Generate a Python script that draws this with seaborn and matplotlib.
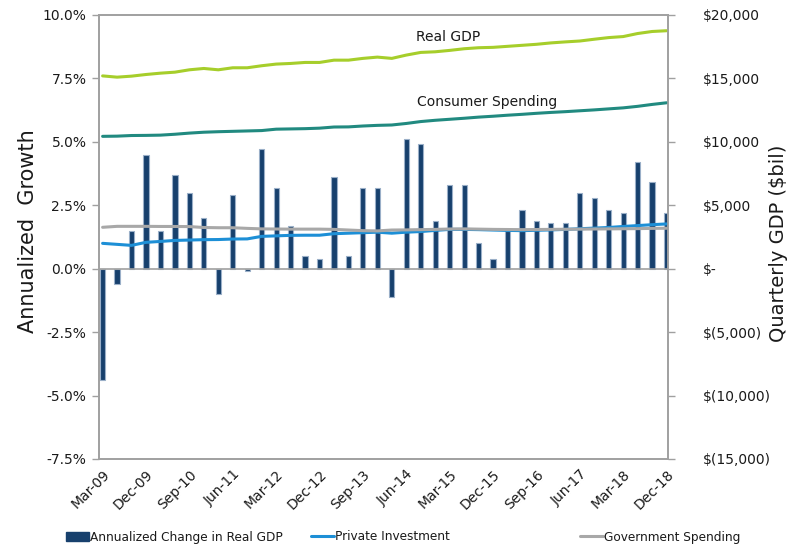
import numpy as np
import pandas as pd
import matplotlib
matplotlib.use("Agg")
import matplotlib.pyplot as plt
import seaborn as sns
from matplotlib.lines import Line2D
from matplotlib.patches import Patch
from matplotlib.ticker import FuncFormatter

sns.set_theme(style="white")
plt.rcParams['font.family'] = ['DejaVu Sans']

months = ["Mar", "Jun", "Sep", "Dec"]
quarters = [f"{m}-{str(y)[2:]}" for y in range(2009, 2019) for m in months]

gdp_growth = [-4.4, -0.6, 1.5, 4.5, 1.5, 3.7, 3.0, 2.0, -1.0, 2.9,
              -0.1, 4.7, 3.2, 1.7, 0.5, 0.4, 3.6, 0.5, 3.2, 3.2,
              -1.1, 5.1, 4.9, 1.9, 3.3, 3.3, 1.0, 0.4, 1.5, 2.3,
              1.9, 1.8, 1.8, 3.0, 2.8, 2.3, 2.2, 4.2, 3.4, 2.2]

real_gdp = [15200, 15100, 15180, 15310, 15415, 15494, 15680, 15785, 15680, 15840,
            15840, 16000, 16130, 16180, 16260, 16260, 16440, 16440, 16580, 16680,
            16580, 16840, 17050, 17100, 17210, 17340, 17420, 17450, 17530, 17610,
            17690, 17800, 17880, 17950, 18090, 18220, 18300, 18540, 18700, 18760]

consumer = [10435, 10450, 10500, 10510, 10530, 10600, 10690, 10760, 10800, 10830,
            10860, 10890, 11000, 11020, 11040, 11080, 11170, 11180, 11250, 11300,
            11330, 11450, 11600, 11700, 11780, 11860, 11950, 12020, 12100, 12170,
            12250, 12320, 12380, 12450, 12520, 12600, 12680, 12800, 12950, 13080]

private_inv = [2000, 1920, 1840, 2080, 2150, 2230, 2260, 2290, 2300, 2340,
               2350, 2550, 2590, 2630, 2640, 2640, 2760, 2800, 2840, 2880,
               2800, 2880, 2930, 3020, 3100, 3100, 3080, 3050, 3020, 3000,
               3030, 3060, 3100, 3150, 3200, 3250, 3330, 3400, 3470, 3530]

government = [3265, 3340, 3340, 3340, 3330, 3330, 3320, 3250, 3230, 3230,
              3180, 3140, 3130, 3120, 3120, 3120, 3100, 3050, 3000, 2980,
              3050, 3060, 3080, 3100, 3130, 3140, 3120, 3100, 3090, 3080,
              3090, 3100, 3110, 3120, 3130, 3140, 3150, 3160, 3180, 3190]

left_ticks = [-7.5, -5.0, -2.5, 0.0, 2.5, 5.0, 7.5, 10.0]
right_ticks = [-15000, -10000, -5000, 0, 5000, 10000, 15000, 20000]

df = pd.DataFrame({
    "idx": np.arange(len(quarters)),
    "quarter": quarters,
    "growth": gdp_growth,
    "real_gdp": real_gdp,
    "consumer": consumer,
    "private": private_inv,
    "gov": government,
})

BAR = "#17406D"
GREEN = "#A6CE2B"
TEAL = "#218A80"
BLUE = "#1D8FD6"
GRAY = "#A8A8A8"
AX = "#A0A0A0"
TXT = "#1a1a1a"

fig = plt.figure(figsize=(7.95, 5.46), dpi=100)
ax = fig.add_axes([99/795, 1-459/546, (668-99)/795, (459-15)/546])

sns.barplot(data=df, x="idx", y="growth", ax=ax, color=BAR, width=0.36,
            saturation=1, edgecolor="#9AAFC8", linewidth=0.8)
ax.axhline(0, color=AX, lw=1.2, zorder=1)

ax.set_ylim(-7.5, 10.0)
ax.set_xlim(-0.25, 39.1)
ax.set_yticks(left_ticks)
ax.yaxis.set_major_formatter(FuncFormatter(lambda v, p: f"{v:.1f}%"))
ax.set_xticks(df["idx"][::3])
ax.set_xticklabels(df["quarter"][::3], rotation=45, ha="right", rotation_mode="anchor")
ax.set_xlabel("")
ax.set_ylabel("Annualized  Growth", fontsize=15, color=TXT)
ax.yaxis.set_label_coords(-0.108, 0.513)
ax.tick_params(axis="y", which="both", left=True, length=5, width=1, color=AX,
               labelsize=10, labelcolor=TXT, pad=4)
ax.tick_params(axis="x", length=0, labelsize=10, labelcolor=TXT, pad=6)
for s in ax.spines.values():
    s.set_color(AX)
    s.set_linewidth(1.2)

ax2 = ax.twinx()
sns.lineplot(data=df, x="idx", y="real_gdp", ax=ax2, color=GREEN, lw=2.2)
sns.lineplot(data=df, x="idx", y="consumer", ax=ax2, color=TEAL, lw=2.2)
sns.lineplot(data=df, x="idx", y="private", ax=ax2, color=BLUE, lw=2.2)
sns.lineplot(data=df, x="idx", y="gov", ax=ax2, color=GRAY, lw=2.2)
ax2.set_ylim(-15000, 20000)
ax2.set_xlim(-0.25, 39.1)
ax2.set_yticks(right_ticks)

def money(v, p):
    if v == 0:
        return "$-"
    if v < 0:
        return f"$({abs(int(v)):,})"
    return f"${int(v):,}"

ax2.yaxis.set_major_formatter(FuncFormatter(money))
ax2.set_ylabel("Quarterly GDP ($bil)", fontsize=14, color=TXT)
ax2.yaxis.set_label_coords(1.178, 0.486)
ax2.set_xlabel("")
ax2.tick_params(axis="y", right=True, length=5, width=1, color=AX,
                labelsize=10, labelcolor=TXT, pad=20)
for s in ax2.spines.values():
    s.set_color(AX)
    s.set_linewidth(1.2)
ax2.grid(False)
ax.grid(False)

ax2.text(23.9, 18250, "Real GDP", fontsize=10, color=TXT, ha="center", va="center")
ax2.text(26.6, 13120, "Consumer Spending", fontsize=10, color=TXT, ha="center", va="center")

h1 = Patch(facecolor=BAR, edgecolor=BAR)
h2 = Line2D([], [], color=BLUE, lw=2.2)
h3 = Line2D([], [], color=GRAY, lw=2.2)
common = dict(frameon=False, fontsize=8.7, handlelength=1.9, handletextpad=0.1,
              borderaxespad=0, borderpad=0, labelcolor=TXT)
fig.legend([h1], ["Annualized Change in Real GDP"], loc="center left",
           bbox_to_anchor=(66/795, 1-537/546), **common)
fig.legend([h2], ["Private Investment"], loc="center left",
           bbox_to_anchor=(311/795, 1-537/546), **common)
fig.legend([h3], ["Government Spending"], loc="center left",
           bbox_to_anchor=(580/795, 1-537/546), **common)

fig.savefig("out.png", dpi=100)
